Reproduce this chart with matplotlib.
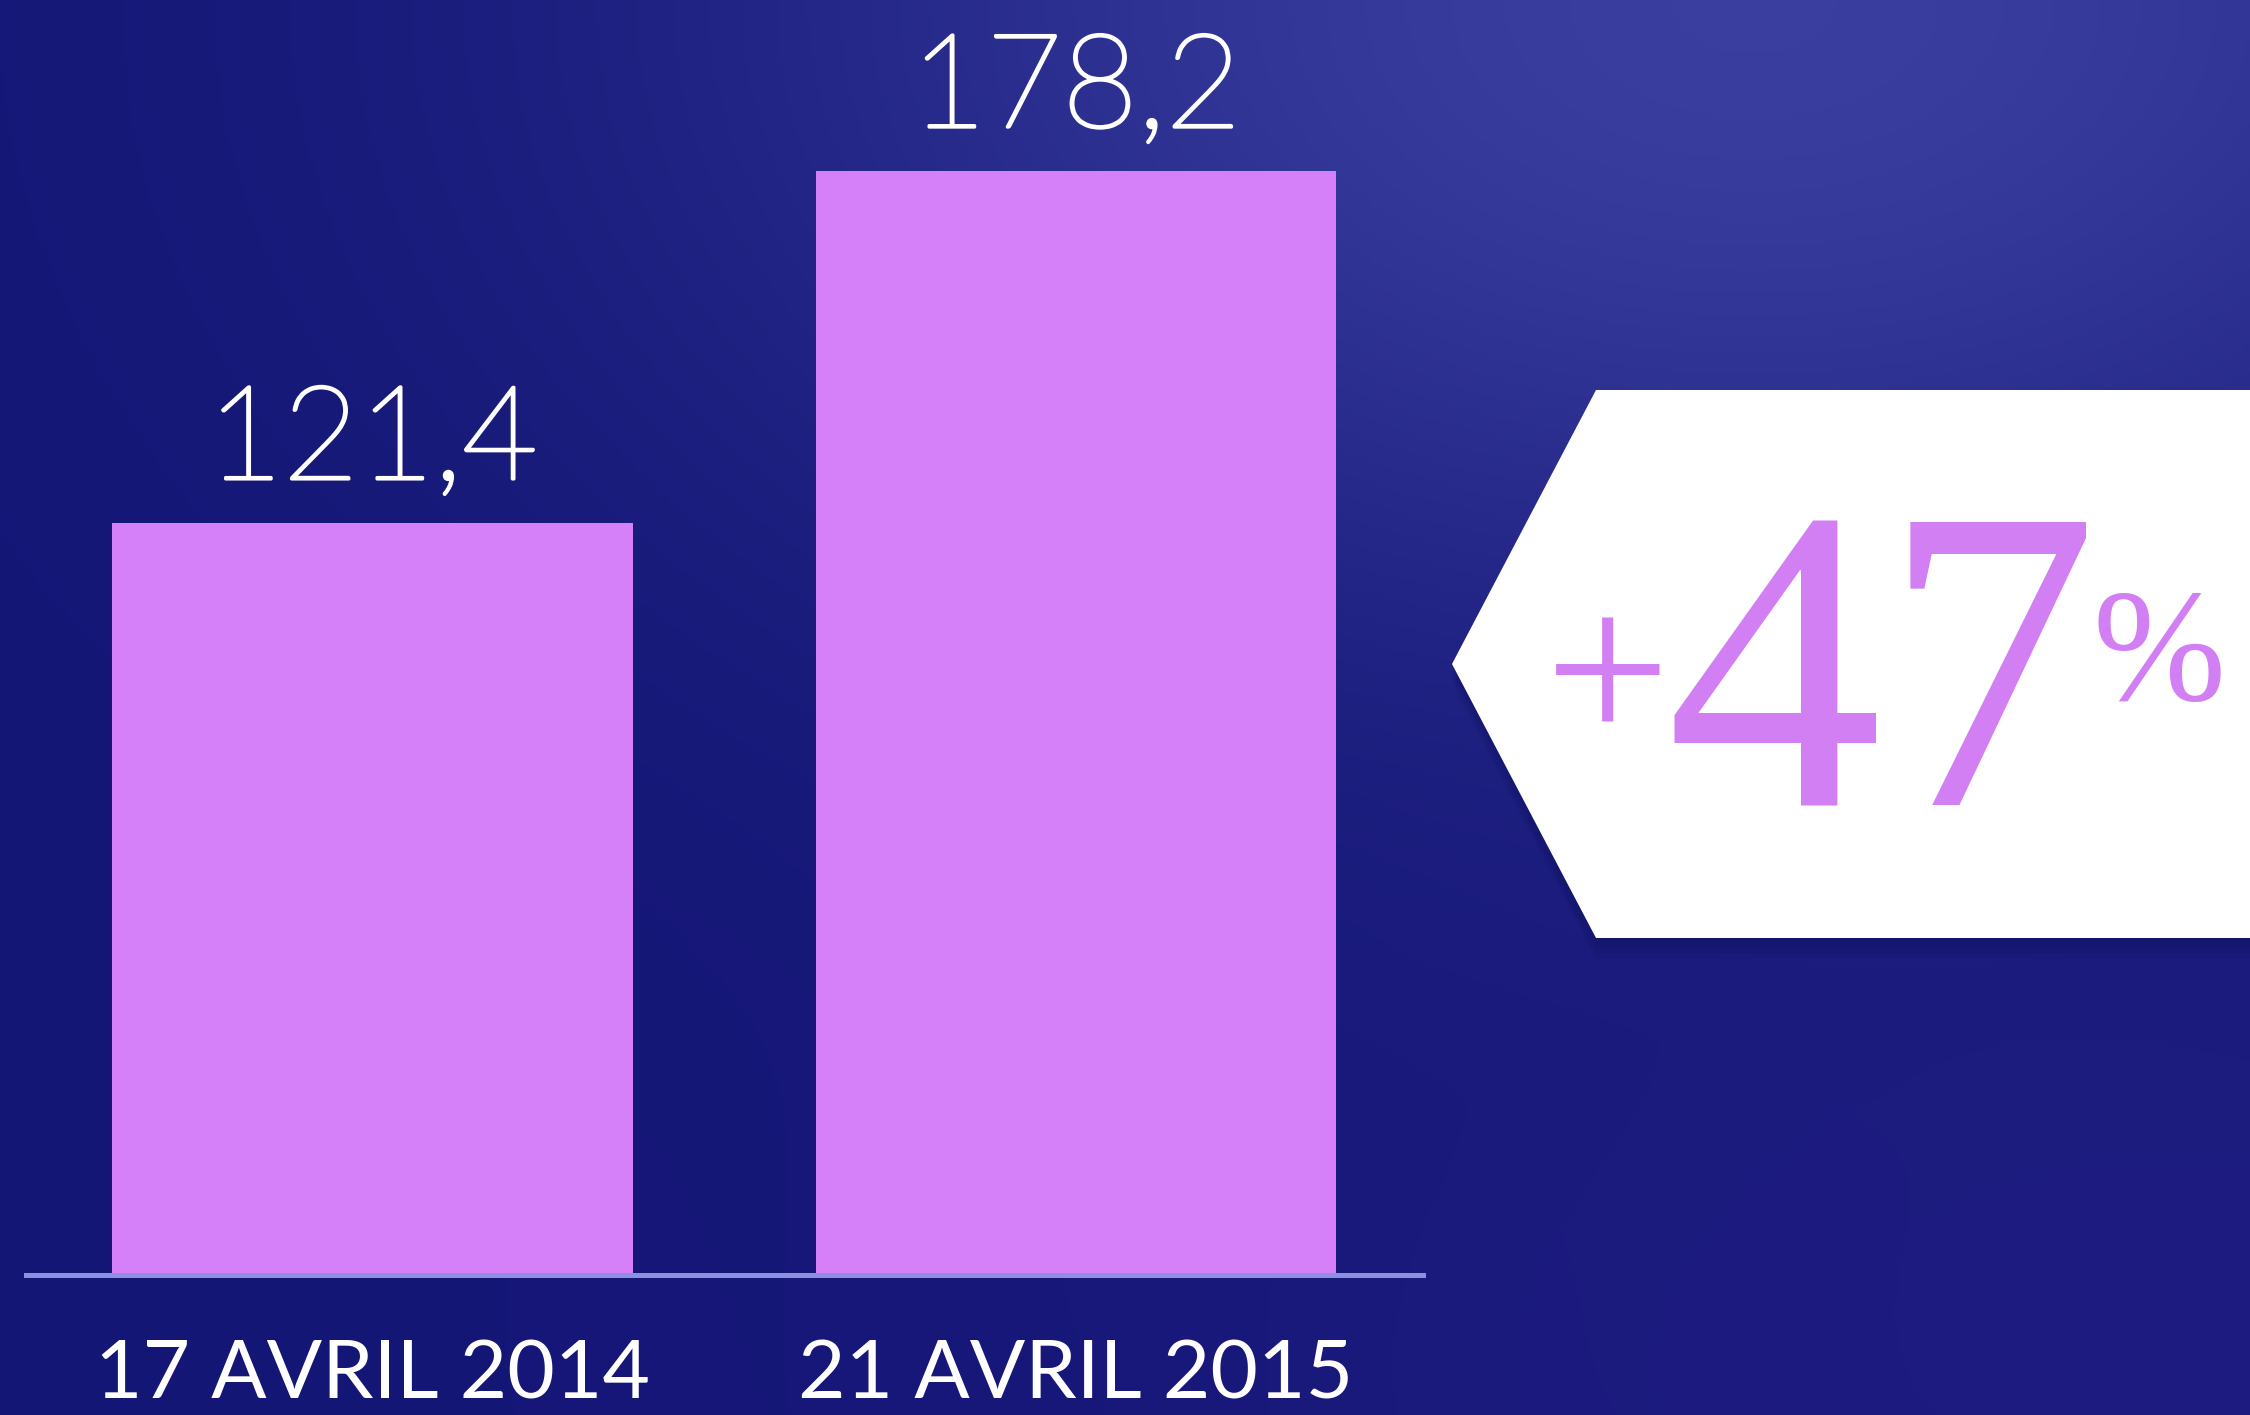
import numpy as np
import matplotlib
matplotlib.use("Agg")
import matplotlib.pyplot as plt
import matplotlib.patheffects as pe
from matplotlib.patches import Polygon

# data
dates = ["17 AVRIL 2014", "21 AVRIL 2015"]
values = [121.4, 178.2]
growth_label = "47"

W, H = 2250, 1415
BAR_COLOR = "#d580f9"
BG_DARK = np.array([20, 22, 118]) / 255.0

fig = plt.figure(figsize=(W / 100, H / 100), dpi=100)

# background gradient
bg = fig.add_axes([0, 0, 1, 1])
yy, xx = np.mgrid[0:1:300j, 0:1:480j]
glow = np.exp(-(((xx - 0.78) / 0.45) ** 2 + ((yy - 0.0) / 0.45) ** 2))
glow2 = np.exp(-(((xx - 1.0) / 0.5) ** 2 + ((yy - 1.0) / 0.35) ** 2))
img = np.zeros(yy.shape + (3,))
img[..., 0] = BG_DARK[0] + 0.15 * glow + 0.04 * glow2
img[..., 1] = BG_DARK[1] + 0.16 * glow + 0.02 * glow2
img[..., 2] = BG_DARK[2] + 0.16 * glow + 0.04 * glow2
bg.imshow(np.clip(img, 0, 1), aspect="auto", extent=[0, 1, 1, 0])
bg.set_axis_off()

# bar chart axes
px_per_unit = (1275 - 171) / values[1]
ax = fig.add_axes([26 / W, 1 - 1275 / H, (1423 - 26) / W, 1275 / H])
ax.patch.set_alpha(0)
x = np.arange(len(values))
ax.bar(x, values, width=0.74, color=BAR_COLOR, zorder=2)
ax.set_xlim(-0.4925, 1.4933)
ax.set_ylim(0, 1275 / px_per_unit)
for side in ["top", "right", "left"]:
    ax.spines[side].set_visible(False)
ax.spines["bottom"].set_color("#8d8fe3")
ax.spines["bottom"].set_linewidth(3.6)
ax.spines["bottom"].set_zorder(3)
ax.set_yticks([])
ax.set_xticks(x, dates)
ax.tick_params(axis="x", length=0, pad=46, labelsize=59, labelcolor="white")
for lab in ax.get_xticklabels():
    lab.set_family("Lato")

# thin font thickened a little with a stroke to get a "light" weight
for xi, v in zip(x, values):
    ax.text(xi, v + 44 / px_per_unit, f"{v:.1f}".replace(".", ","),
            ha="center", va="baseline", color="white", fontsize=94,
            family="Lato", fontweight="light",
            path_effects=[pe.withStroke(linewidth=2.4, foreground="white")])

# white arrow box with soft shadow
def fig_pts(pts):
    return [(px / W, 1 - py / H) for px, py in pts]

box = [(1452, 664), (1596, 390), (2260, 390), (2260, 938), (1596, 938)]
for i in range(4):
    off = 6 + i * 5
    sh = Polygon(fig_pts([(px, py + off) for px, py in box]), closed=True,
                 transform=fig.transFigure, facecolor="#05063a", alpha=0.05,
                 edgecolor="none", zorder=4)
    fig.add_artist(sh)
fig.add_artist(Polygon(fig_pts(box), closed=True, transform=fig.transFigure,
                       facecolor="white", edgecolor="none", zorder=5))

TXT = "#d17ff3"
fig.text(1608 / W, 1 - 690 / H, "+", ha="center", va="center", color=TXT,
         fontsize=160, family="Liberation Serif", zorder=6)
fig.text(1882 / W, 1 - 806 / H, growth_label, ha="center", va="baseline",
         color=TXT, fontsize=312, family="Liberation Serif", zorder=6)
fig.text(2092 / W, 1 - 588 / H, "%", ha="left", va="top", color=TXT,
         fontsize=115, family="Liberation Serif", zorder=6)

fig.savefig("out.png", dpi=100)
